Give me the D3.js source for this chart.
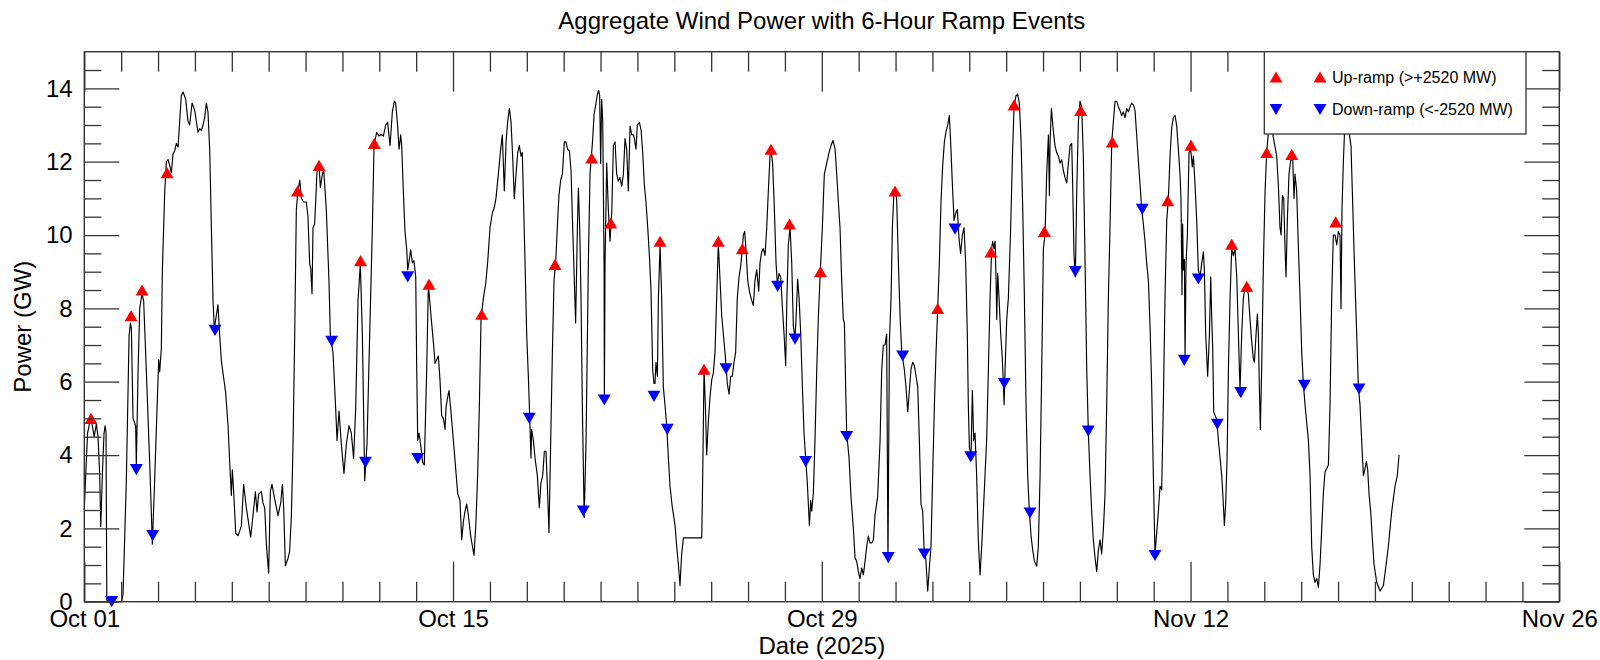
<!DOCTYPE html>
<html><head><meta charset="utf-8">
<script src="https://cdn.jsdelivr.net/npm/d3@7"></script>
<style>
html,body{margin:0;padding:0;background:#fff;}
svg{display:block;font-family:"Liberation Sans",Arial,sans-serif;}
</style></head><body>
<svg id="chart" width="1600" height="660"></svg>
<script>
const titleText = "Aggregate Wind Power with 6-Hour Ramp Events";
const xLabelText = "Date (2025)";
const yLabelText = "Power (GW)";
const xStart = "2025-10-01T00:00:00Z";
const xEnd = "2025-11-26T00:00:00Z";
const xTickLabels = ["Oct 01","Oct 15","Oct 29","Nov 12","Nov 26"];
const yTickValues = [0,2,4,6,8,10,12,14];
const legendLabels = ["Up-ramp (>+2520 MW)","Down-ramp (<-2520 MW)"];

// [hours since 2025-10-01 00:00 UTC, aggregate power in GW]
const powerSeries = [
[0,2.5],[1.5,3.6],[3,4.6],[5,4.9],[7,4.85],[9,4.5],[11,4.85],[12.5,4.5],[14,3.5],[15,2.05],[16.5,3.5],[18,4.6],[19,4.8],[19.8,4.6],[20.5,0.05],[21.5,0],[34,0],[35.3,0.2],
[38.3,3.3],[40.8,7.25],[42,7.6],[42.9,7.45],[44.4,5],[46.8,4.8],[47.4,3.7],[49,6.3],[50.5,8],[52.6,8.4],[54.1,8.2],[56.5,6.3],[59.6,3.8],[62,1.57],[64.1,3.3],[66.3,5.3],[67.8,6.6],[68.7,6.27],[70.2,6.9],[71.1,9],[73.3,11.2],[74.8,12],[76.3,12.06],[77.8,11.9],[79.3,11.7],[80.8,12.2],[82.4,12.3],[83.9,12.5],[85.4,12.4],[86.9,13.1],[88.4,13.8],[90,13.9],[92.4,13.7],[94.5,13.1],[96,13],[98.2,13.6],[100.6,13.4],[102.1,13.1],[103.6,12.8],[105.1,12.9],[106.7,12.85],[108.2,13],[109.7,13.2],[111.2,13.6],[112.7,13.35],[114.3,12.3],[115.8,10.2],[117.3,8.2],[118.5,7.45],[120.3,7.8],[121.8,8.1],[123.4,7.25],[124.9,6.57],[127,6.1],[128.8,5.7],[131,4.8],[132.5,3.8],[134,2.9],[134.9,3.6],[136.1,3],[138,1.86],[140.1,1.8],[143.1,2.06],[145.2,3.2],[147.7,2.55],[150.1,2.06],[151.6,1.76],[153.7,2.35],[155.9,3],[157.4,2.45],[158.9,2.94],[161.3,3],[162.8,2.7],[164.4,2.55],[165.9,1.57],[168,0.78],[169.5,3],[171,3.2],[173.5,2.8],[176.5,2.35],[179,2.7],[180.5,3.2],[181.7,2.55],[183.2,0.98],[185.6,1.18],[187.1,1.37],[188.7,2.35],[190.2,4.3],[191.7,7.25],[193.2,10.7],[194.7,11.2],[196.3,11.5],[197.8,11],[199.9,10.9],[202.3,10.9],[203.8,10.5],[205.4,9.2],[206.3,9.1],[207.5,8.4],[208.4,10.2],[209.9,10.3],[212,11.7],[213.9,11.9],[215.1,11.3],[216.6,11.6],[218.1,11.8],[220.5,10.7],[223,8.7],[224.2,7.25],[226.6,6.8],[229,5.3],[230.3,4.4],[232.1,5.2],[234.2,4.3],[236.6,3.5],[238.8,4.3],[241.2,4.8],[243.3,4.6],[245.4,3.9],[247.3,5.3],[249.4,8.2],[251.5,9.2],[253.4,7.25],[255.5,3.3],[257.6,4.3],[260,7.25],[262.5,10.2],[264,12.45],
[266.4,12.8],[268.5,12.7],[270.4,12.75],[272.5,12.7],[274.6,13],[276.4,13.07],[278.6,12.44],[280.7,13.36],[282.5,13.65],[283.7,13.6],[285.2,13.1],[286.8,12.34],[288.3,12.73],[289.2,12.44],[290.7,11.2],[292.2,10.1],[293.8,9.6],[294.7,9.05],[296.2,9.34],[297.4,9.6],[298.9,9.24],[300.4,9.3],[302,8.86],[302.9,6.34],[303.8,4.4],[305,4.6],[306.8,4.2],[308.3,3.8],[309.8,3.73],[312,6.34],[313.5,8.66],[315.9,7.8],[318,7.1],[319.6,6.5],[321.1,6.6],[322.6,6.7],[324.1,6.05],[325.6,5.08],[327.2,5],[328.7,4.7],[329.6,5.3],[331.1,5.57],[332.3,5.76],[334.1,5.18],[336.3,4.4],[338.4,3.63],[340.2,2.95],[342.3,2.76],[343.9,1.69],[345.4,2.18],[346.9,2.47],[348.4,2.66],[349.9,2.37],[352.1,1.79],[355.1,1.26],[356.9,2.18],[358.4,3.44],[360,5.37],[361.5,7.7],[363.6,8.28],[365.7,8.66],[367.5,9.24],[369.7,10.2],[371.8,10.6],[373.6,10.75],[375.1,11],[377.3,11.66],[379.4,12.34],[380.9,12.73],[382.7,11.2],[384.3,12.54],[385.8,13.1],[387.3,13.45],[388.8,13.1],[390.3,12.15],[391.8,11],[393.4,11.66],[394.9,12.25],[396.4,12.44],[397.9,12.15],[399.1,12.25],[400,11.2],[401.6,9.24],[403.1,7.3],[404.6,6.15],[405.5,5.37],[407,3.92],[407.6,4.7],[409.2,4.4],[410.7,3.92],[412.8,3.44],[414.6,2.57],[416.1,3.24],[417.7,3.44],[419.2,4.1],[420.7,4.1],[422.2,2.95],[423.4,1.89],[425,4.4],[426.5,6.8],[428,8.76],[429.5,9.24],[431.3,10.4],[432.5,11.08],[434.1,11.5],[435.6,11.66],[437.4,12.54],[438.9,12.54],[440.4,12.34],[442,12.3],[443.5,11.76],[445,10.2],[446.5,8.76],[447.7,7.6],[449.3,10.2],[450.2,11.28],[451.4,10.2],[452.6,8.28],[453.8,5.37],[455.5,2.3],
[457.2,4.4],[459.3,9.24],[460.8,11.66],[463.2,12.6],[464.5,13.3],[466.3,13.6],[467.5,13.84],[468.7,13.94],[469.6,13.8],[470.5,11.96],[471.4,13.7],[472.4,13.1],[473.6,9.24],[473.9,5.57],[474.5,9.24],[476,11.96],[477.5,10.7],[479,9.83],[480.6,10.6],[482.1,12.44],[483.6,12.54],[485.1,11.66],[486.6,11.47],[488.1,11.57],[489.7,11.33],[491.2,11.66],[492.7,12.63],[494.2,12.34],[495.7,11.2],[497.3,12.97],[498.8,12.73],[500.3,12.73],[501.2,12.63],[502.7,12.34],[503.9,13],[505.8,13.07],[507.3,12.87],[508.8,12.25],[510.3,11.37],[511.8,10.9],[513.4,10.2],[514.9,9.44],[516.4,8.47],[517.9,6.34],[519.1,5.95],[520,5.95],[520.9,6.53],[522.2,6.15],[523.1,8.28],[524.6,9.73],[526.1,8.28],[527.6,5.86],[529.1,5.37],[530.7,4.8],[532.2,3.92],[533.7,3.15],[535.8,2.57],[538.3,2.08],[539.8,1.5],[541.3,1.02],[542.8,0.44],[544.3,1.3],[545.9,1.74],[562.6,1.74],[563.5,3.44],[564.7,6.34],[565.9,5.37],[567.1,4],[568.6,4.9],[570.1,5.57],[571.7,6.05],[573.2,6.24],[574.7,6.8],[576.2,8.28],[577.7,9.78],[579.3,8.76],[580.8,7.8],[582.3,7.3],[583.8,6.8],[584.7,6.44],[585.9,5.95],[587.5,5.66],[589,6.15],[590.5,6.15],[592,6.53],[593.5,6.8],[595,8.28],[596.6,8.86],[598.1,9.15],[599.6,9.63],[600.5,10],[601.7,10.1],[602.9,9.63],[604.5,8.76],[606,8.47],[607.5,8.28],[609.6,8.08],[611.1,8.76],[612.7,9.05],[614.5,8.47],[615.7,9.24],[617.2,9.54],[618.7,9.63],[620.3,9.44],[621.8,10.2],[623.3,11.2],[624.8,12.15],[625.7,12.3],[627.2,11.96],[628.8,10.7],[630.3,9.24],[631.5,8.66],[633,8.95],[634.5,8.86],[636,8.08],[637.6,7.3],[639.1,6.44],
[640.2,8.28],[641.5,9.73],[643.1,10.2],[644.6,9.24],[646.1,7.5],[647.6,7.2],[648.5,7.7],[650,8.8],[651.3,8.28],[652.8,7.3],[654.3,5.86],[655.8,4.6],[657.3,3.92],[658.8,3.24],[660.7,2.08],[661.9,2.76],[662.8,2.47],[664.3,2.95],[665.8,4.4],[667.4,6.34],[668.9,7.8],[670.7,9.05],[672.5,10.2],[674.3,11.66],[676.5,11.96],[678.6,12.25],[680.4,12.44],[682.2,12.58],[684.1,12.34],[685.6,11.66],[687.1,10.9],[688.6,10.2],[690.1,8.76],[691.6,7.7],[692.6,7.6],[693.8,5.76],[694.7,4.6],[696.8,3.92],[698.6,2.86],[700.8,1.98],[702.3,1.2],[703.8,1.1],[705.3,0.82],[706.8,0.63],[708.4,0.92],[709.9,0.73],[711.4,1.1],[712.9,1.5],[714.4,1.79],[716,1.6],[717.5,1.6],[719,1.69],[720.5,2.37],[722.9,2.86],[725.1,4.4],[726.6,6.34],[728.1,7],[729.6,7],[731.1,7.3],[732.3,1.1],[733.6,7.1],[735.1,8.28],[736.3,10.2],[737.8,11.2],[738.7,11.23],[740.2,11],[741.8,9.24],[743.3,7.8],[744.8,6.8],[747.2,6.34],[748.7,5.86],[750.3,5.18],[751.8,5.76],[753.3,6.34],[754.8,6.53],[756.3,6.44],[757.9,6.15],[759.4,5.86],[760.9,4.4],[762.4,2.66],[763.9,2.47],[765.4,1.3],[766.7,1.2],[768.5,0.29],[770,0.92],[771.5,1.5],[773,3.44],[774.6,5.37],[776.1,6.8],[777.6,7.99],[779.1,9.24],[780.6,10.9],[782.1,11.86],[783.7,12.54],[785.2,12.83],[786.7,13],[788.2,13.26],[789.4,12.54],[791,11.37],[792.5,10.4],[794,10.6],[795.5,10.7],[797,9.92],[798.5,9.49],[800.1,10],[801.6,10.2],[803.1,9.24],[804.6,7.3],[805.5,5.37],[806.5,4.2],[808,4],[809.2,5.76],[810.4,4.4],[811.6,4.6],[813.1,3.44],[814.6,1.69],[816.2,0.73],[817.7,1.5],[819.2,2.47],[820.7,3.44],[822.2,4.4],[823.8,6.34],[825.3,8.28],[826.8,9.63],
[827.7,9.83],[828.9,9.63],[829.9,9.83],[830.8,8.76],[831.4,7.7],[832.3,8.95],[833.5,8.28],[835,7.3],[836.5,6.63],[837.4,5.95],[838.1,5.37],[839,6.34],[840.5,7.7],[842,8.28],[844.1,10.2],[845.7,12.15],[847.2,13.5],[849,13.8],[850.5,13.84],[852,13.6],[853.5,12.63],[855.1,10.7],[856.6,8.28],[858.1,5.37],[859.6,3.44],[861.1,2.47],[862.7,1.79],[864.2,1.4],[865.7,1.11],[867.8,0.97],[869.3,1.5],[870.9,3.44],[872.4,6.34],[873.9,9.63],[875.4,10],[876.9,11.66],[878.5,12.73],[879.4,11.08],[880,12.54],[881.2,13.45],[883,12.83],[884.5,12.44],[886,12.25],[887.6,12.15],[889.1,11.96],[890.6,12.05],[892.1,11.76],[893.6,11.57],[895.2,11.42],[896.7,11.96],[898.2,12.44],[899.7,12.5],[900.6,11.37],[901.8,9.44],[903,8.86],[904.3,11.2],[905.8,13.1],[907.3,13.65],[908.8,13.5],[910.3,12.15],[911.9,9.24],[913.4,6.34],[914.9,4.6],[916.4,3.44],[917.9,2.47],[919.4,1.69],[921,1.2],[922.5,0.82],[924,1.4],[925.5,1.69],[927,1.3],[928.6,1.98],[930.1,2.95],[931.6,5.37],[933.1,8.28],[934.6,10.2],[936.2,12.54],[937.7,13.1],[939.2,13.65],[940.7,13.65],[942.2,13.5],[943.7,13.4],[945.3,13.26],[946.8,13.36],[948.3,13.2],[949.8,13.45],[951.3,13.36],[952.9,13.5],[954.4,13.6],[955.9,13.55],[957.4,13.4],[958.9,12.73],[960.4,12.05],[962,11.37],[963.5,10.7],[965,10.3],[966.5,9.83],[968,9.24],[969.6,8.76],[971.1,7.5],[972.6,5.86],[974.1,3.44],[975.6,1.3],[977.2,1.89],[978.7,2.47],[980.2,3.15],[981.7,3.05],[983.2,5.37],[984.7,8.28],[986.3,10.4],[987.8,10.99],[989.3,12.15],[990.8,12.92],[992.3,13.2],[993.9,13.26],[995.4,12.97],[996.9,12.34],[998.4,11.66],[999.3,10.99],[1000.2,8.37],[1000.8,10.3],[1001.4,9.05],[1002.4,9.34],[1003,6.63],[1003.9,9.24],[1005.1,10],[1006.6,12.25],[1008.1,12.34],[1009.6,11.86],[1010.6,12.15],[1012.1,11.37],[1013.6,10.4],[1015.1,9.05],
[1016.7,8.86],[1018.2,9.24],[1019.7,9.54],[1020.6,9.05],[1021.8,7.3],[1023.6,6.15],[1025.2,7.3],[1026.4,8.86],[1027.3,7.7],[1028.2,6.92],[1029.1,5.18],[1030.3,5.08],[1031.8,4.98],[1033.4,4.4],[1034.9,3.92],[1036.4,3.44],[1037.9,2.66],[1038.8,2.08],[1040,2.66],[1041.3,3.92],[1042.5,6.34],[1044,8.28],[1045.5,9.63],[1047,9.44],[1048.5,9.63],[1050.1,8.86],[1051.6,7.3],[1053.1,5.76],[1054.6,7.3],[1056.1,8.28],[1057.7,8.57],[1059.2,8.6],[1060.7,8.37],[1062.2,7.7],[1063.7,7.1],[1065.2,6.63],[1066.2,6.53],[1067.7,7.3],[1068.9,7.84],[1069.8,7.3],[1070.7,5.86],[1071.6,4.7],[1072.8,6.34],[1074.4,9.24],[1075.9,11.2],[1077.4,12.25],[1078.9,12.8],[1080.7,13.5],[1082.6,12.8],[1086.5,12.15],[1088,11.37],[1089.5,10.2],[1090.5,10],[1091.7,11.08],[1092.9,11],[1094.1,9.63],[1095,8.86],[1096.2,10.4],[1097.7,11.66],[1099.3,12.05],[1101.1,12.05],[1102.3,11],[1103.2,11.66],[1104.7,11.2],[1106.2,9.73],[1107.8,8.28],[1109.3,6.8],[1110.8,5.95],[1112.3,5.37],[1113.8,4.9],[1115.4,4.4],[1116.9,3.44],[1118.4,1.5],[1119.9,0.73],[1121.4,0.53],[1123,0.63],[1124.5,0.39],[1126,1.02],[1127.5,1.98],[1129,2.95],[1130.5,3.53],[1132.1,3.63],[1133.6,3.73],[1135.1,5.37],[1136.6,8.28],[1138.1,10],[1139.7,10],[1141.2,9.73],[1142.7,10.1],[1144.2,10],[1145.1,7.99],[1146,10.7],[1147.2,11.96],[1148.2,12.73],[1150.3,13.8],[1152.4,12.8],[1154.2,12.44],[1155.4,11.2],[1157.3,9.24],[1159.4,7.3],[1160.9,5.86],[1162.4,5.37],[1163.9,4.4],[1165.5,3.44],[1167,3.63],[1168.2,3.82],[1169.4,3.6],[1170.6,2.95],[1172.1,2.47],[1173.7,1.69],[1175.2,1.02],[1177.6,0.53],[1180.7,0.29],[1183.7,0.44],[1185.8,0.92],[1188.2,1.5],[1191.3,2.47],[1194.3,3.15],[1196.4,3.44],[1198,4]
];

// ramp events: [hours since 2025-10-01 00:00 UTC, GW]
const upRamps = [[6.1,5],[42.6,7.8],[52.6,8.5],[75.4,11.7],[194.3,11.2],[213.9,11.9],[251.7,9.3],[264.2,12.5],[314.1,8.66],[362.1,7.84],[428.9,9.2],[462.3,12.1],[479.7,10.33],[524.6,9.83],[564.7,6.34],[577.7,9.83],[599.6,9.63],[625.7,12.34],[642.6,10.3],[670.8,9],[738.7,11.2],[777.6,8],[826.2,9.54],[847.2,13.55],[874.8,10.1],[907.9,13.4],[936.7,12.54],[987.2,10.94],[1008.4,12.45],[1045.5,9.75],[1059.2,8.6],[1077.4,12.25],[1100.2,12.2],[1140.3,10.36]];
const downRamps = [[25,0],[47.4,3.6],[62.3,1.8],[119.1,7.4],[225.4,7.1],[256.2,3.8],[294.7,8.86],[303.8,3.9],[405.5,5],[454.7,2.47],[473.8,5.5],[519.1,5.6],[531.2,4.7],[584.7,6.35],[631.8,8.6],[647.6,7.16],[657.3,3.82],[694.7,4.5],[732.6,1.2],[745.7,6.7],[765.4,1.3],[793.4,10.16],[807.7,3.95],[838.3,5.95],[861.7,2.42],[903,9],[914.8,4.65],[964,10.7],[975.6,1.26],[1002.3,6.58],[1015.1,8.8],[1032.4,4.84],[1053.7,5.7],[1111.7,5.9],[1161.5,5.8]];

const W = 1600, H = 660;
const m = {left: 84.3, right: 1559.3, top: 51.7, bottom: 601.7};
const HOUR = 3600e3;
const t0 = new Date(xStart), t1 = new Date(xEnd);
const toDate = h => new Date(t0.getTime() + h * HOUR);

const x = d3.scaleUtc().domain([t0, t1]).range([m.left, m.right]);
const y = d3.scaleLinear().domain([0, 15]).range([m.bottom, m.top]);

const svg = d3.select("#chart");
const FONT = '"Liberation Sans", Arial, sans-serif';
const AXC = "#333";

// data line
const line = d3.line().x(d => x(toDate(d[0]))).y(d => y(d[1]));
svg.append("path").datum(powerSeries)
  .attr("fill", "none").attr("stroke", "#000").attr("stroke-width", 1.15)
  .attr("stroke-linejoin", "round").attr("d", line);

// markers
const triSize = 72;
const triY = Math.sqrt(triSize / (Math.sqrt(3) * 3));
const tri = d3.symbol(d3.symbolTriangle, triSize);
svg.append("g").selectAll("path").data(upRamps).join("path")
  .attr("d", tri).attr("fill", "#ff0000")
  .attr("transform", d => `translate(${x(toDate(d[0]))},${y(d[1]) + triY / 2})`);
svg.append("g").selectAll("path").data(downRamps).join("path")
  .attr("d", tri).attr("fill", "#0000ff")
  .attr("transform", d => `translate(${x(toDate(d[0]))},${y(d[1]) - triY / 2}) rotate(180)`);

// ticks
const majorX = xTickLabels.map((_, i) => toDate(i * 14 * 24));
const minorX = d3.range(41).filter(i => i % 10 !== 0).map(i => toDate(i * 33.6));
const minorY = d3.range(1, 30).map(i => i * 0.5).filter(v => v % 2 !== 0);

function styleAxis(g) {
  g.select(".domain").remove();
  g.selectAll(".tick line").attr("stroke", AXC).attr("stroke-width", 1.3);
  g.attr("font-family", FONT).attr("font-size", 24);
  g.selectAll("text").attr("fill", "#000");
}
svg.append("g").attr("transform", `translate(0,${m.bottom})`)
  .call(d3.axisBottom(x).tickValues(majorX).tickSizeInner(-40).tickSizeOuter(0).tickPadding(8.5)
    .tickFormat((d, i) => xTickLabels[i])).call(styleAxis);
svg.append("g").attr("transform", `translate(0,${m.bottom})`)
  .call(d3.axisBottom(x).tickValues(minorX).tickSizeInner(-20).tickSizeOuter(0).tickFormat("")).call(styleAxis);
svg.append("g").attr("transform", `translate(0,${m.top})`)
  .call(d3.axisTop(x).tickValues(majorX).tickSizeInner(-40).tickSizeOuter(0).tickFormat("")).call(styleAxis);
svg.append("g").attr("transform", `translate(0,${m.top})`)
  .call(d3.axisTop(x).tickValues(minorX).tickSizeInner(-20).tickSizeOuter(0).tickFormat("")).call(styleAxis);
svg.append("g").attr("transform", `translate(${m.left},0)`)
  .call(d3.axisLeft(y).tickValues(yTickValues).tickSizeInner(-35).tickSizeOuter(0).tickPadding(11.6)
    .tickFormat(d3.format("d"))).call(styleAxis);
svg.append("g").attr("transform", `translate(${m.left},0)`)
  .call(d3.axisLeft(y).tickValues(minorY).tickSizeInner(-17).tickSizeOuter(0).tickFormat("")).call(styleAxis);
svg.append("g").attr("transform", `translate(${m.right},0)`)
  .call(d3.axisRight(y).tickValues(yTickValues).tickSizeInner(-35).tickSizeOuter(0).tickFormat("")).call(styleAxis);
svg.append("g").attr("transform", `translate(${m.right},0)`)
  .call(d3.axisRight(y).tickValues(minorY).tickSizeInner(-17).tickSizeOuter(0).tickFormat("")).call(styleAxis);

// frame
svg.append("rect").attr("x", m.left).attr("y", m.top)
  .attr("width", m.right - m.left).attr("height", m.bottom - m.top)
  .attr("fill", "none").attr("stroke", AXC).attr("stroke-width", 1.4);

// legend
const lg = svg.append("g");
lg.append("rect").attr("x", 1264.3).attr("y", m.top).attr("width", 261.7).attr("height", 82.3)
  .attr("fill", "#fff").attr("stroke", AXC).attr("stroke-width", 1.3);
const legendRows = [{y: 77, color: "#ff0000", rot: 0, label: legendLabels[0]},
                    {y: 109.5, color: "#0000ff", rot: 180, label: legendLabels[1]}];
legendRows.forEach(r => {
  [1276, 1320].forEach(cx => {
    lg.append("path").attr("d", tri).attr("fill", r.color)
      .attr("transform", `translate(${cx},${r.y + (r.rot ? -triY / 2 : triY / 2)}) rotate(${r.rot})`);
  });
  lg.append("text").attr("x", 1332).attr("y", r.y + 5.8)
    .attr("font-family", FONT).attr("font-size", 16).attr("fill", "#000").text(r.label);
});

// titles
svg.append("text").attr("x", (m.left + m.right) / 2).attr("y", 29)
  .attr("text-anchor", "middle").attr("font-family", FONT).attr("font-size", 24).text(titleText);
svg.append("text").attr("x", (m.left + m.right) / 2).attr("y", 654)
  .attr("text-anchor", "middle").attr("font-family", FONT).attr("font-size", 24).text(xLabelText);
svg.append("text").attr("transform", `translate(31,${(m.top + m.bottom) / 2}) rotate(-90)`)
  .attr("text-anchor", "middle").attr("font-family", FONT).attr("font-size", 24).text(yLabelText);
</script>
</body></html>
